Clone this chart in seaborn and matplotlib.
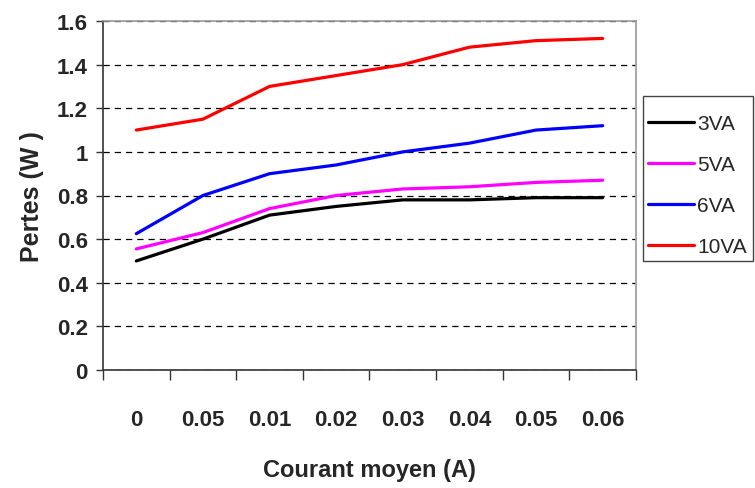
import matplotlib
matplotlib.use("Agg")
import matplotlib.pyplot as plt
from matplotlib.patches import Rectangle
import seaborn as sns
import pandas as pd
import numpy as np

categories = ["0", "0.05", "0.01", "0.02", "0.03", "0.04", "0.05", "0.06"]
series_names = ["3VA", "5VA", "6VA", "10VA"]
va3 = [0.50, 0.60, 0.71, 0.75, 0.78, 0.78, 0.79, 0.79]
va5 = [0.555, 0.63, 0.74, 0.80, 0.83, 0.84, 0.86, 0.87]
va6 = [0.625, 0.80, 0.90, 0.94, 1.00, 1.04, 1.10, 1.12]
va10 = [1.10, 1.15, 1.30, 1.35, 1.40, 1.48, 1.51, 1.52]
colors = ["#000000", "#FF00FF", "#0000FF", "#FF0000"]

sns.set_style("white")
plt.rcParams['font.family'] = ['Liberation Sans', 'DejaVu Sans']

rows = []
for name, vals in zip(series_names, [va3, va5, va6, va10]):
    for i, v in enumerate(vals):
        rows.append({"pos": i, "value": v, "serie": name})
df = pd.DataFrame(rows)

W, H = 755, 489
fig = plt.figure(figsize=(W/100, H/100), dpi=100)
ax = fig.add_axes([103/W, 1-371/H, (636-103)/W, (371-22)/H])

sns.lineplot(data=df, x="pos", y="value", hue="serie", hue_order=series_names,
             palette=colors, linewidth=2.3, ax=ax, legend=True)

ax.set_xlim(-0.5, len(categories) - 0.5)
ax.set_ylim(0, 1.6)
ax.set_yticks(np.arange(0, 1.61, 0.2))
ax.set_yticklabels(["0", "0.2", "0.4", "0.6", "0.8", "1", "1.2", "1.4", "1.6"],
                   fontsize=16, fontweight="bold")
ax.yaxis.grid(True, color="black", linestyle=(0, (5, 4)), linewidth=0.9)
ax.set_axisbelow(True)

ax.set_xticks(range(len(categories)))
ax.set_xticklabels(categories, fontsize=16, fontweight="bold")
ax.set_xticks(np.arange(-0.5, len(categories), 1.0), minor=True)
ax.tick_params(axis="x", which="major", length=0, pad=28)
ax.tick_params(axis="x", which="minor", length=7, width=1, color="#333333", direction="out", bottom=True)
ax.tick_params(axis="y", which="major", length=5, width=1, color="#333333", direction="out", left=True, pad=6)

for s in ["left", "bottom"]:
    ax.spines[s].set_color("#333333")
    ax.spines[s].set_linewidth(1.2)
for s in ["top", "right"]:
    ax.spines[s].set_color("#999999")
    ax.spines[s].set_linewidth(1.2)

ax.set_xlabel("Courant moyen (A)", fontsize=17, fontweight="bold", labelpad=20)
ax.set_ylabel("Pertes (W )", fontsize=18, fontweight="bold", labelpad=9)

handles, labels = ax.get_legend_handles_labels()
ax.legend_.remove()
leg = fig.legend(handles, labels, loc="center left", bbox_to_anchor=(643/W, 1-186/H),
                 frameon=False, fontsize=15,
                 handlelength=2.2, handletextpad=0.15, labelspacing=1.05,
                 borderpad=0.25, borderaxespad=0)
for line in leg.get_lines():
    line.set_linewidth(2.3)

fig.patches.append(Rectangle((643/W, 1-262/H), 110/W, 165/H, transform=fig.transFigure,
                             fill=False, edgecolor="#444444", linewidth=1.0))

fig.savefig("out.png", dpi=100)
